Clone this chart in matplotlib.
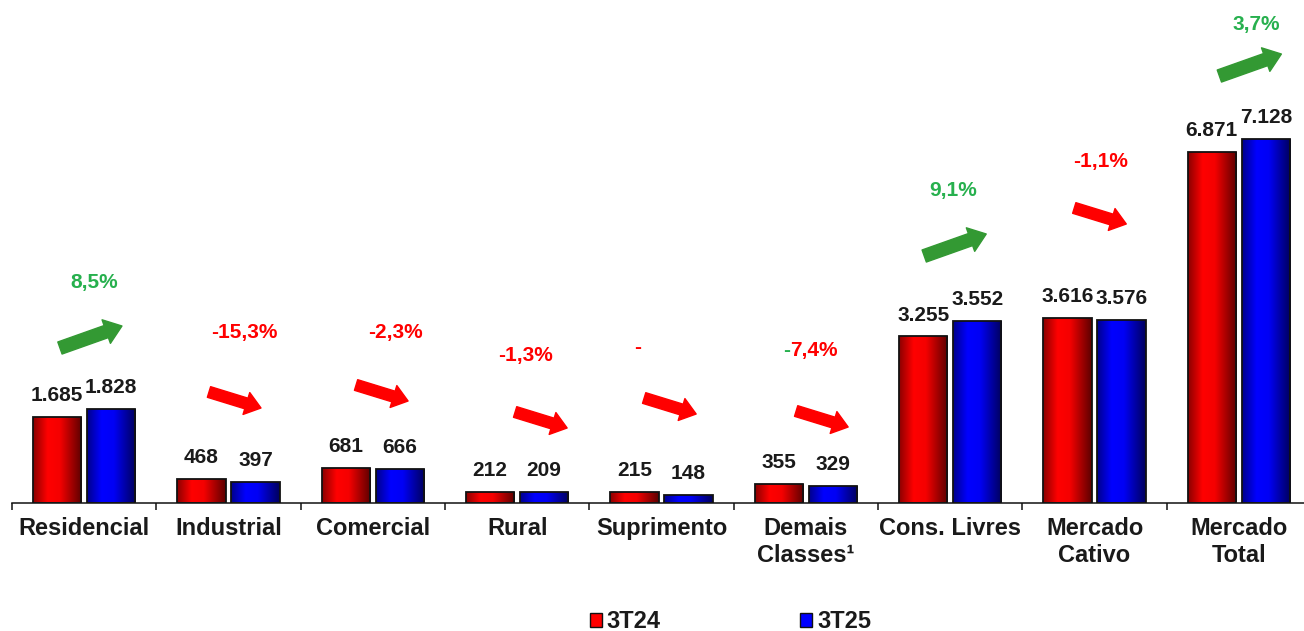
import numpy as np
import matplotlib
matplotlib.use('Agg')
import matplotlib.pyplot as plt
from matplotlib.colors import LinearSegmentedColormap
from matplotlib.patches import FancyArrowPatch, Patch
from matplotlib.transforms import IdentityTransform

plt.rcParams['font.family'] = ['Liberation Sans', 'DejaVu Sans']
plt.rcParams['font.weight'] = 'bold'

# ---------------- data ----------------
categories = ['Residencial', 'Industrial', 'Comercial', 'Rural', 'Suprimento',
              'Demais\nClasses\u00b9', 'Cons. Livres', 'Mercado\nCativo', 'Mercado\nTotal']
v3t24 = [1685, 468, 681, 212, 215, 355, 3255, 3616, 6871]
v3t25 = [1828, 397, 666, 209, 148, 329, 3552, 3576, 7128]
variation = [8.5, -15.3, -2.3, -1.3, None, -7.4, 9.1, -1.1, 3.7]
series_labels = ['3T24', '3T25']
green_sign = [False, False, False, False, False, True, False, False, False]

# annotation layout (data coordinates: category index, value axis)
pct_pos = [(0.068, 4304), (1.108, 3324), (2.154, 3324), (3.055, 2873), (3.838, 3049),
           (5.03, 2990), (6.021, 6127), (7.043, 6686), (8.118, 9382)]
arrow_pos = [(0.047, 3245), (1.045, 2010), (2.064, 2147), (3.166, 1618), (4.06, 1892),
             (5.113, 1637), (6.035, 5049), (7.04, 5618), (8.08, 8578)]

W, H = 1304, 631
fig = plt.figure(figsize=(W / 100, H / 100), dpi=100)
ax = fig.add_axes([12 / W, (H - 502.5) / H, 1299 / W, 502.5 / H])

TXT = '#1a1a1a'
GREEN_TXT = '#27b04e'
GREEN_ARR = '#339933'
RED = '#ff0000'

red_cmap = LinearSegmentedColormap.from_list(
    'r', [(0, '#8a0000'), (0.3, '#ff0000'), (0.55, '#f50000'), (1.0, '#5c0000')])
blue_cmap = LinearSegmentedColormap.from_list(
    'b', [(0, '#00008a'), (0.3, '#0000ff'), (0.55, '#0000f5'), (1.0, '#00005c')])
grad = np.linspace(0, 1, 256).reshape(1, -1)

x = np.arange(len(categories))
bw = 0.333
off = 0.187

for vals, sign, cmap in [(v3t24, -1, red_cmap), (v3t25, 1, blue_cmap)]:
    bars = ax.bar(x + sign * off, vals, width=bw, facecolor='none',
                  edgecolor='#111111', linewidth=1.3, zorder=3)
    for b, v in zip(bars, vals):
        bx, by, bwid, bh = b.get_x(), b.get_y(), b.get_width(), b.get_height()
        im = ax.imshow(grad, cmap=cmap, extent=(bx, bx + bwid, by, by + bh),
                       aspect='auto', interpolation='bilinear', zorder=2)
        im.set_clip_path(b)
        ax.annotate(f'{v:,}'.replace(',', '.'), (b.get_x() + bwid / 2, v),
                    xytext=(0, 11.5), textcoords='offset points',
                    ha='center', va='baseline', fontsize=15, fontweight='bold',
                    color=TXT, zorder=4)

ax.set_xlim(-0.5, 8.5)
ax.set_ylim(0, 9853)
ax.set_yticks([])
for s in ['top', 'left', 'right']:
    ax.spines[s].set_visible(False)
ax.spines['bottom'].set_linewidth(1.1)
ax.spines['bottom'].set_color('#111111')
ax.set_xticks(x)
ax.set_xticklabels(categories, fontsize=17, fontweight='bold', color=TXT,
                   linespacing=1.23)
ax.tick_params(axis='x', which='major', length=0, pad=10.5)
ax.set_xticks(np.arange(-0.5, 9, 1), minor=True)
ax.tick_params(axis='x', which='minor', length=5, width=1.1, color='#111111',
               direction='out')

# arrows and variation labels
renderer = fig.canvas.get_renderer()
for i in range(len(categories)):
    up = v3t25[i] > v3t24[i]
    cx, cy = ax.transData.transform(arrow_pos[i])
    if up:
        dx, dy = 62, 22
        style = 'simple,head_length=12,head_width=18,tail_width=9.2'
        col = GREEN_ARR
    else:
        dx, dy = 52, -16
        style = 'simple,head_length=11,head_width=16.5,tail_width=8'
        col = RED
    arr = FancyArrowPatch(posA=(cx - dx / 2, cy - dy / 2), posB=(cx + dx / 2, cy + dy / 2),
                          arrowstyle=style, mutation_scale=1, color=col,
                          transform=IdentityTransform(), shrinkA=0, shrinkB=0)
    fig.add_artist(arr)

    v = variation[i]
    label = '-' if v is None else f'{v:.1f}'.replace('.', ',') + '%'
    tcol = GREEN_TXT if up else RED
    px, py = pct_pos[i]
    if green_sign[i] and label.startswith('-'):
        t = ax.text(px, py, label, ha='center', va='center', fontsize=15,
                    fontweight='bold', color=tcol)
        bb = t.get_window_extent(renderer)
        t.remove()
        inv = ax.transData.inverted()
        x0 = inv.transform((bb.x0, 0))[0]
        x1 = inv.transform((bb.x1, 0))[0]
        ax.text(x0, py, '-', ha='left', va='center', fontsize=15,
                fontweight='bold', color=GREEN_TXT)
        ax.text(x1, py, label[1:], ha='right', va='center', fontsize=15,
                fontweight='bold', color=tcol)
    else:
        ax.text(px, py, label, ha='center', va='center', fontsize=15,
                fontweight='bold', color=tcol)

handles = [Patch(facecolor='#ff0000', edgecolor='#111111', linewidth=1),
           Patch(facecolor='#0000ff', edgecolor='#111111', linewidth=1)]
fig.legend(handles, series_labels, loc='center', bbox_to_anchor=(730.5 / W, 1 - 622 / H),
           ncol=2, frameon=False, prop={'size': 17, 'weight': 'bold'},
           handlelength=0.5, handleheight=0.5, handletextpad=0.22,
           columnspacing=5.9, borderpad=0, borderaxespad=0, labelcolor=TXT)

fig.savefig('out.png', dpi=100)
